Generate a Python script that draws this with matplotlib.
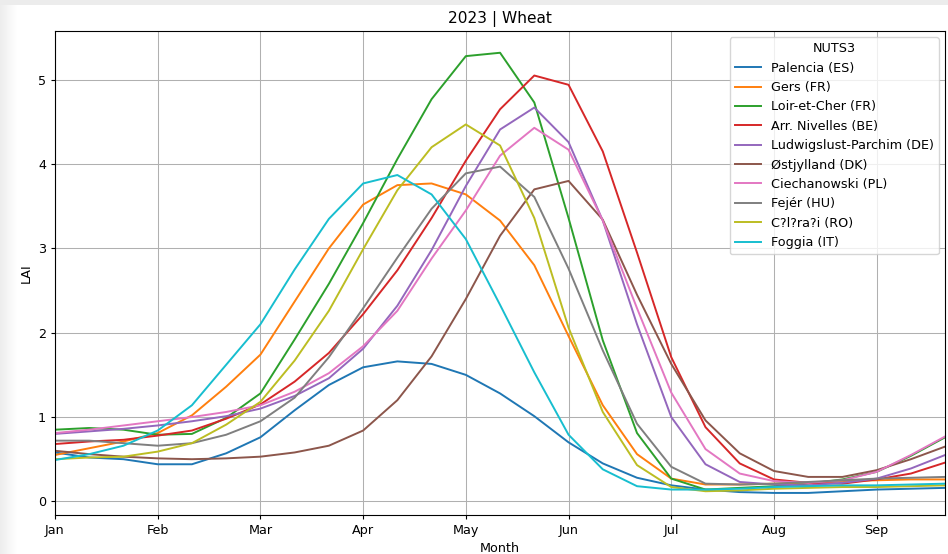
import numpy as np
import matplotlib.pyplot as plt
from matplotlib.patches import Rectangle

# LAI per dekad (1st, 11th, 21st of each month), Jan 1 .. Sep 21
months = ['Jan', 'Feb', 'Mar', 'Apr', 'May', 'Jun', 'Jul', 'Aug', 'Sep']
regions = ['Palencia (ES)', 'Gers (FR)', 'Loir-et-Cher (FR)', 'Arr. Nivelles (BE)',
           'Ludwigslust-Parchim (DE)', 'Østjylland (DK)', 'Ciechanowski (PL)',
           'Fejér (HU)', 'C?l?ra?i (RO)', 'Foggia (IT)']

palencia = [0.58, 0.52, 0.50, 0.44, 0.44, 0.57, 0.76, 1.08, 1.38, 1.59, 1.66, 1.63, 1.50, 1.28,
            1.01, 0.70, 0.45, 0.28, 0.19, 0.14, 0.11, 0.10, 0.10, 0.12, 0.14, 0.15, 0.16]
gers = [0.55, 0.63, 0.71, 0.81, 1.02, 1.36, 1.74, 2.37, 3.00, 3.52, 3.75, 3.77, 3.64, 3.33,
        2.80, 1.96, 1.14, 0.56, 0.27, 0.20, 0.20, 0.21, 0.22, 0.24, 0.25, 0.26, 0.26]
loir = [0.85, 0.87, 0.85, 0.79, 0.80, 0.99, 1.28, 1.92, 2.58, 3.30, 4.06, 4.77, 5.28, 5.32,
        4.73, 3.36, 1.91, 0.81, 0.27, 0.14, 0.16, 0.18, 0.21, 0.26, 0.35, 0.54, 0.76]
nivelles = [0.68, 0.71, 0.73, 0.78, 0.84, 0.98, 1.15, 1.42, 1.76, 2.22, 2.74, 3.36, 4.04, 4.65,
            5.05, 4.94, 4.15, 2.95, 1.71, 0.88, 0.45, 0.26, 0.22, 0.21, 0.26, 0.33, 0.46]
ludwigslust = [0.80, 0.83, 0.86, 0.90, 0.95, 1.01, 1.10, 1.25, 1.46, 1.81, 2.32, 2.98, 3.74, 4.41,
               4.67, 4.26, 3.33, 2.10, 1.00, 0.44, 0.23, 0.20, 0.19, 0.22, 0.27, 0.39, 0.55]
ostjylland = [0.60, 0.56, 0.53, 0.51, 0.50, 0.51, 0.53, 0.58, 0.66, 0.84, 1.20, 1.72, 2.40, 3.15,
              3.70, 3.80, 3.34, 2.45, 1.63, 0.96, 0.57, 0.36, 0.29, 0.29, 0.37, 0.50, 0.65]
ciechanowski = [0.81, 0.85, 0.90, 0.95, 1.00, 1.06, 1.14, 1.30, 1.52, 1.84, 2.26, 2.88, 3.45, 4.10,
                4.43, 4.17, 3.33, 2.29, 1.29, 0.62, 0.33, 0.24, 0.22, 0.25, 0.35, 0.55, 0.77]
fejer = [0.72, 0.72, 0.69, 0.66, 0.69, 0.79, 0.95, 1.23, 1.71, 2.29, 2.89, 3.47, 3.89, 3.97,
         3.61, 2.76, 1.79, 0.92, 0.41, 0.21, 0.20, 0.21, 0.23, 0.25, 0.27, 0.28, 0.29]
calarasi = [0.50, 0.52, 0.53, 0.59, 0.69, 0.91, 1.18, 1.67, 2.26, 2.99, 3.69, 4.20, 4.47, 4.22,
            3.36, 2.06, 1.06, 0.43, 0.17, 0.12, 0.13, 0.15, 0.16, 0.17, 0.17, 0.18, 0.19]
foggia = [0.49, 0.56, 0.66, 0.84, 1.14, 1.62, 2.10, 2.75, 3.35, 3.77, 3.87, 3.64, 3.11, 2.33,
          1.53, 0.79, 0.38, 0.18, 0.14, 0.14, 0.15, 0.17, 0.18, 0.19, 0.19, 0.20, 0.21]

series = [palencia, gers, loir, nivelles, ludwigslust, ostjylland,
          ciechanowski, fejer, calarasi, foggia]

# everything a touch smaller than the defaults
plt.rcParams.update({
    'font.size': 9.2,
    'xtick.major.size': 3.2, 'ytick.major.size': 3.2,
    'xtick.major.pad': 3.2, 'ytick.major.pad': 3.2,
    'axes.labelpad': 3.7, 'axes.titlepad': 5.5,
    'lines.linewidth': 1.4, 'grid.linewidth': 0.75,
})

fig = plt.figure(figsize=(9.48, 5.54), dpi=100)
ax = fig.add_axes([0.058, 0.0705, 0.939, 0.874])

x = np.arange(len(palencia))
for name, vals in zip(regions, series):
    ax.plot(x, vals, label=name)

ax.set_xlim(0, len(palencia) - 1)
ax.set_xticks(np.arange(0, 3 * len(months), 3))
ax.set_xticklabels(months)
ax.grid(True)
ax.set_xlabel('Month')
ax.set_ylabel('LAI')
ax.set_title('2023 | Wheat')
ax.legend(title='NUTS3', loc='upper right')

# light frame around the canvas
fig.add_artist(Rectangle((0, 0.991), 1, 0.009, transform=fig.transFigure,
                         color='#ececec', lw=0, zorder=-1))
for k in range(17):
    shade = 0.93 + 0.07 * k / 17
    fig.add_artist(Rectangle((k / 948, 0), 1 / 948, 0.991, transform=fig.transFigure,
                             color=(shade, shade, shade), lw=0, zorder=-1))

plt.savefig('out.png', dpi=100)
